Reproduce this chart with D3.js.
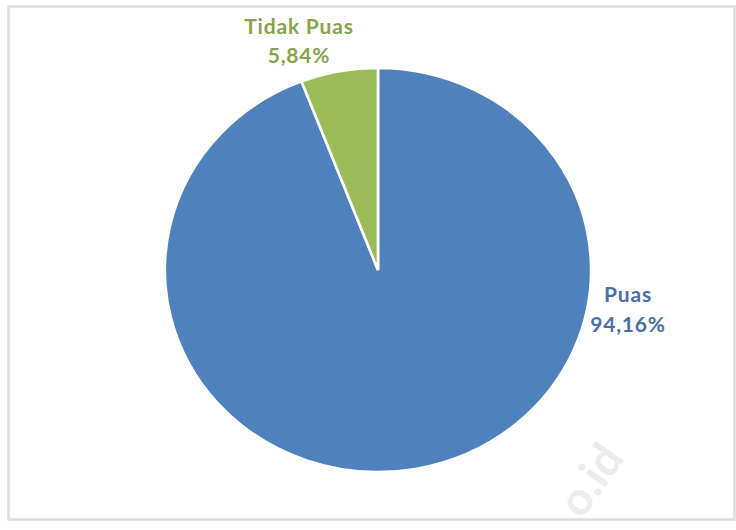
<!DOCTYPE html>
<html><head><meta charset="utf-8">
<script src="https://cdn.jsdelivr.net/npm/d3@7"></script>
<style>html,body{margin:0;padding:0;background:#fff;}svg{display:block;}</style>
</head><body>
<svg id="c" width="736" height="530"></svg>
<script>
const categories = ["Puas", "Tidak Puas"];
const values = [94.16, 5.84];
const labels = ["94,16%", "5,84%"];
const colors = ["#4F81BD", "#9BBB59"];
const textColors = ["#4a6ea6", "#86a44c"];

const svg = d3.select("#c");
// frame
svg.append("rect").attr("x", 8.5).attr("y", 6.5).attr("width", 726).attr("height", 513)
  .attr("fill", "#fff").attr("stroke", "#dcdcdc").attr("stroke-width", 2.5);

const cx = 378, cy = 270, r = 202;
const pie = d3.pie().sort(null).startAngle(0).endAngle(2 * Math.PI)(values);
const arc = d3.arc().innerRadius(0).outerRadius(r);
const g = svg.append("g").attr("transform", `translate(${cx},${cy}) scale(1.055,1)`);
g.selectAll("path").data(pie).join("path")
  .attr("d", arc).attr("fill", (d, i) => colors[i])
  .attr("stroke", "#fff").attr("stroke-width", 2.5);

// labels
const lab = [
  {x: 628, y1: 302, y2: 332},
  {x: 299, y1: 34, y2: 63}
];
categories.forEach((c, i) => {
  const t = svg.append("text").attr("text-anchor", "middle")
    .attr("font-family", "Lato, 'Open Sans', sans-serif").attr("font-weight", "bold")
    .attr("font-size", 21).attr("letter-spacing", 0.8).attr("fill", textColors[i]);
  t.append("tspan").attr("x", lab[i].x).attr("y", lab[i].y1).text(c);
  t.append("tspan").attr("x", lab[i].x).attr("y", lab[i].y2).text(labels[i]);
});

// faint watermark
svg.append("text").attr("transform", "translate(582,520) rotate(-55)")
  .attr("font-family", "Lato, sans-serif").attr("font-weight", "bold").attr("font-size", 46)
  .attr("fill", "#ececec").text("o.id");
</script>
</body></html>
